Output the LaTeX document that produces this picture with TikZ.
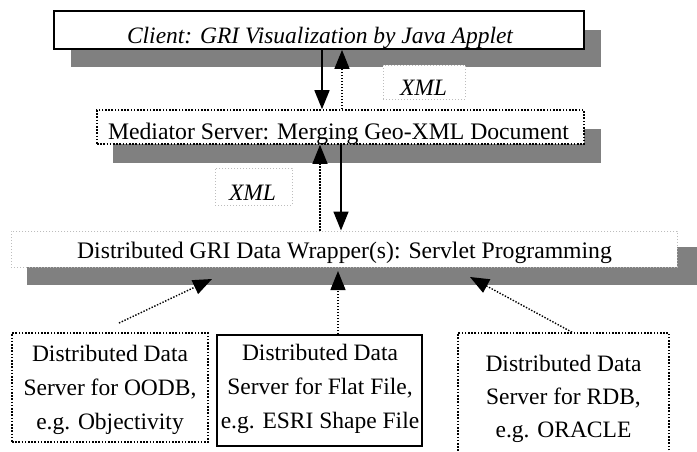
\documentclass[tikz,border=0pt]{standalone}
\usepackage{fontspec}
\setmainfont{Liberation Serif}
\usetikzlibrary{arrows.meta}
\definecolor{shade}{HTML}{808080}
\definecolor{lightdot}{HTML}{BDBDBD}
\tikzset{
  shadowbox/.style={fill=shade, draw=none},
  solidbox/.style={draw=black, line width=1.8pt, fill=white, inner sep=0pt},
  dotbox/.style={draw=black, line width=1.6pt, dash pattern=on 1.6pt off 1.6pt, fill=white, inner sep=0pt},
  greybox/.style={draw=lightdot, line width=1pt, dash pattern=on 1pt off 2pt, fill=white, inner sep=0pt},
  lbl/.style={inner sep=0pt, anchor=base, font=\fontsize{23.7}{28}\selectfont},
  ilbl/.style={inner sep=0pt, anchor=base, font=\fontsize{23.5}{28}\selectfont\itshape},
  mlbl/.style={inner sep=0pt, align=center},
  headtip/.style={-{Triangle[width=15pt,length=19pt]}},
  solidarrow/.style={headtip, line width=1.6pt},
  dotarrow/.style={headtip, line width=1.4pt, dash pattern=on 1.4pt off 1.6pt},
}
\begin{document}
\begin{tikzpicture}[x=1pt, y=-1pt]
  \useasboundingbox (0,0) rectangle (697,451);

  % client tier
  \path[shadowbox] (71,30) rectangle (601,67);
  \node[solidbox, minimum width=530pt, minimum height=38pt] (client) at (319,30) {};
  \node[ilbl] (clienttxt) at (320,43) {Client: GRI Visualization by Java Applet};

  % mediator tier
  \path[shadowbox] (113,129) rectangle (601,163);
  \node[dotbox, minimum width=487pt, minimum height=34pt] (med) at (340.5,127) {};
  \node[lbl] (medtxt) at (338.5,139) {Mediator Server: Merging Geo-XML Document};

  % XML labels
  \node[greybox, minimum width=82pt, minimum height=34pt] (xmla) at (424,82) {};
  \node[ilbl] (xmlatxt) at (423.5,95) {XML};
  \node[greybox, minimum width=77pt, minimum height=37pt] (xmlb) at (253.5,186.5) {};
  \node[ilbl] (xmlbtxt) at (252.5,200) {XML};

  % wrapper tier
  \path[shadowbox] (27,247) rectangle (697,285);
  \node[greybox, minimum width=666pt, minimum height=36pt] (wrap) at (344,249) {};
  \node[lbl] (wraptxt) at (344.5,258) {Distributed GRI Data Wrapper(s): Servlet Programming};

  % data servers
  \node[dotbox, minimum width=196pt, minimum height=109pt] (oodb) at (110,387.5) {};
  \node[mlbl, font=\fontsize{23.5}{34}\selectfont] (oodbtxt) at (110,390) {Distributed Data\\Server for OODB,\\e.g. Objectivity};
  \node[solidbox, minimum width=205pt, minimum height=111pt] (flat) at (319.5,390.5) {};
  \node[mlbl, font=\fontsize{23.5}{34}\selectfont] (flattxt) at (320,389) {Distributed Data\\Server for Flat File,\\e.g. ESRI Shape File};
  \node[dotbox, minimum width=211pt, minimum height=140pt] (rdb) at (563.5,403) {};
  \node[mlbl, font=\fontsize{23.5}{33}\selectfont] (rdbtxt) at (563.5,399) {Distributed Data\\Server for RDB,\\e.g. ORACLE};

  % connector anchors
  \coordinate (ca) at (322,0);
  \coordinate (cb) at (342,0);
  \coordinate (cc) at (320,0);
  \coordinate (cd) at (341,0);
  \coordinate (oodbtail) at (119,323);
  \coordinate (oodbtip) at (212,279);
  \coordinate (flatx) at (338,0);
  \coordinate (flattip) at (338,271);
  \coordinate (rdbx) at (572,0);
  \coordinate (rdbtip) at (470,277);

  % client <-> mediator
  \draw[solidarrow] (ca |- client.south) -- (ca |- med.north);
  \draw[dotarrow] (cb |- med.north) -- (cb |- client.south);
  % mediator <-> wrapper
  \draw[dotarrow] (cc |- wrap.north) -- (cc |- med.south);
  \draw[solidarrow] (cd |- med.south) -- (cd |- wrap.north);
  % data servers -> wrapper
  \draw[dotarrow] (oodbtail) -- (oodbtip);
  \draw[dotarrow] (flatx |- flat.north) -- (flattip);
  \draw[dotarrow] (rdbx |- rdb.north) -- (rdbtip);
\end{tikzpicture}
\end{document}
